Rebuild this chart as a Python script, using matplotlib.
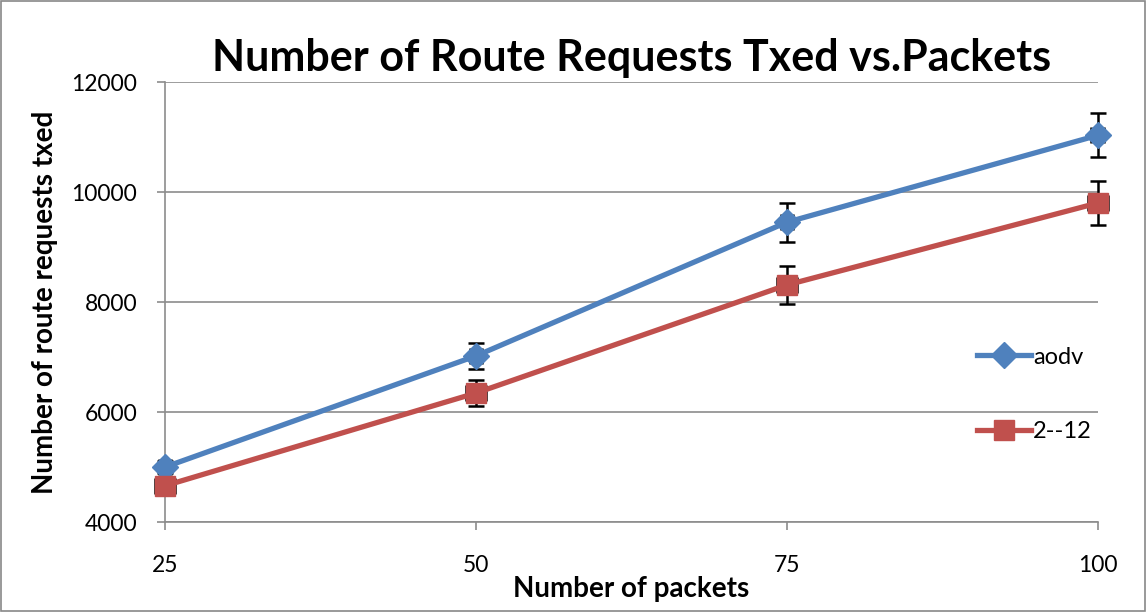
import matplotlib.pyplot as plt
from matplotlib.patches import Rectangle

packets = [25, 50, 75, 100]
aodv = [5000, 7020, 9450, 11030]
aodv_err = [110, 230, 350, 400]
alt = [4660, 6345, 8310, 9800]
alt_err = [110, 240, 340, 400]
x_err = [0.8, 0.8, 0.8, 0.8]

plt.rcParams['font.family'] = ['Lato', 'DejaVu Sans']

fig = plt.figure(figsize=(11.47, 6.12), dpi=100)
ax = fig.add_axes([0.1439, 0.147, 0.957 - 0.1439, 0.866 - 0.147])
fig.patches.append(Rectangle((0.001, 0.001), 0.997, 0.997, transform=fig.transFigure,
                             fill=False, edgecolor='#888888', linewidth=1.2))

blue = '#4F81BD'
red = '#C0504D'

ax.errorbar(packets, aodv, yerr=aodv_err, xerr=[0.5] * 4, fmt='none', ecolor='black',
            elinewidth=1.8, capsize=6, capthick=1.8, zorder=2, clip_on=False)
ax.errorbar(packets, alt, yerr=alt_err, xerr=x_err, fmt='none', ecolor='black',
            elinewidth=1.8, capsize=6, capthick=1.8, zorder=2, clip_on=False)
ax.plot(packets, aodv, color=blue, lw=3.8, marker='D', markersize=13,
        label='aodv', zorder=3, clip_on=False)
ax.plot(packets, alt, color=red, lw=3.8, marker='s', markersize=15,
        label='2--12', zorder=3, clip_on=False)

ax.set_xlim(25, 100)
ax.set_ylim(4000, 12000)
ax.set_xticks(packets)
ax.set_yticks([4000, 6000, 8000, 10000, 12000])
ax.yaxis.grid(True, color='#8c8c8c', lw=1.2)
ax.set_axisbelow(True)
for s in ['top', 'right']:
    ax.spines[s].set_visible(False)
for s in ['left', 'bottom']:
    ax.spines[s].set_color('#8c8c8c')
    ax.spines[s].set_linewidth(1.2)
ax.tick_params(axis='both', labelsize=16.5, color='#8c8c8c', length=6, width=1.2)
ax.tick_params(axis='x', pad=18)
ax.tick_params(axis='y', pad=14)

ax.set_title('Number of Route Requests Txed vs.Packets', fontsize=31, fontweight='bold', pad=8)
ax.set_xlabel('Number of packets', fontsize=20, fontweight='bold', labelpad=0)
ax.set_ylabel('Number of route requests txed', fontsize=20, fontweight='bold', labelpad=10)

ax.legend(loc='upper left', bbox_to_anchor=(0.86, 0.42), frameon=False, fontsize=17,
          handlelength=2.3, labelspacing=2.25, handletextpad=0.1, borderaxespad=0)

fig.savefig('out.png', dpi=100)
